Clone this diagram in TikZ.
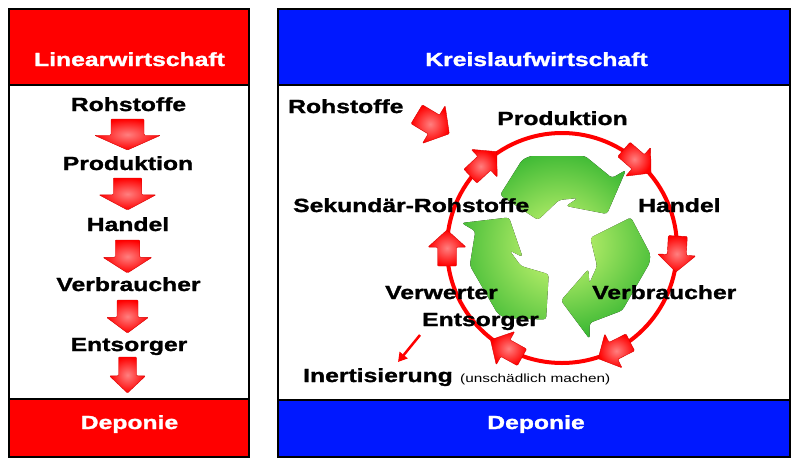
\documentclass[tikz,border=0pt]{standalone}
\usepackage{fontspec}
\setmainfont{Liberation Sans}[FakeStretch=1.3]
\newfontfamily\labfont{Liberation Sans}[UprightFont={* Bold}, FakeStretch=1.3, FakeBold=1.4]
\usetikzlibrary{positioning,arrows.meta}
\definecolor{hdblue}{RGB}{0,24,255}
\definecolor{recylight}{RGB}{215,252,120}
\definecolor{recydark}{RGB}{45,178,45}
\tikzset{
	blockarr/.pic={\shade[inner color=red!50!white, outer color=red, draw=red!85!black, line width=.4pt, rounded corners=1pt] (-1,-.5) -- (.05,-.5) -- (.05,-1) -- (1,0) -- (.05,1) -- (.05,.5) -- (-1,.5) -- cycle;},
	recyarr/.pic={\fill[y=1pt, rounded corners=3pt, path picture={\shade[inner color=recylight, outer color=recydark] (sym) circle[radius=104pt];}] (-59,49) -- (-37,84) -- (-29,88) -- (26,88) -- (53,66) -- (67,74) -- (48,30) -- (7,38) -- (19,46) -- (0,44) -- (-21,24) -- cycle;}
}
\begin{document}
\begin{tikzpicture}[x=1pt, y=-1pt, panel/.style={line width=2.5pt},
		lab/.style={font=\labfont\fontsize{19}{22}\selectfont, inner sep=0pt, anchor=base},
		hd/.style={lab, text=white}]
	\useasboundingbox (0,0) rectangle (800,469);
	\fill[white] (0,0) rectangle (800,469);
	\filldraw[panel, fill=red] (9,9) rectangle (249,85);
	\filldraw[panel, fill=white] (9,85) rectangle (249,399);
	\filldraw[panel, fill=red] (9,399) rectangle (249,457);
	\filldraw[panel, fill=hdblue] (278,9) rectangle (790,85);
	\filldraw[panel, fill=white] (278,85) rectangle (790,400);
	\filldraw[panel, fill=hdblue] (278,400) rectangle (790,457);
	\foreach \y/\l/\h in {134.5/31/66, 194/32/57, 256.5/33/49, 316.5/33/42, 375/36/36}
		\pic[rotate=-90, xscale=\l/2, yscale=\h/2] at (127.5,\y) {blockarr};
	\node[circle, draw=red, line width=4pt, minimum size=230pt, outer sep=0pt] (ring) at (562,248) {};
	\foreach \a in {133,49,-3,-63,-119,180}
		\pic[rotate=\a-90, xscale=18, yscale=19] at (ring.\a) {blockarr};
	\pic[rotate=-31, xscale=19, yscale=22] at (433,124) {blockarr};
	\coordinate (sym) at (559,244);
	\foreach \r in {0,-120,120}
		\pic[rotate=\r] at (sym) {recyarr};
	\coordinate (inA) at (420,335);
	\coordinate (inB) at (398,362);
	\draw[red, line width=2.5pt, -{Triangle[length=9pt,width=10pt]}] (inA) -- (inB);
	\node[hd] (linh) at (129.5,66) {Linearwirtschaft};
	\node[lab] (lroh) at (128.5,111) {Rohstoffe};
	\node[lab] (lpro) at (128,170) {Produktion};
	\node[lab] (lhan) at (128,231) {Handel};
	\node[lab] (lverb) at (128.5,291) {Verbraucher};
	\node[lab] (lent) at (129,351) {Entsorger};
	\node[hd] (ldep) at (129.5,429) {Deponie};
	\node[hd] (khdr) at (536.5,66) {Kreislaufwirtschaft};
	\node[hd] (rdep) at (536,429) {Deponie};
	\node[lab, anchor=base west] (rroh) at (288,113) {Rohstoffe};
	\node[lab] (rpro) at (562.5,125) {Produktion};
	\node[lab, anchor=base west] (rsek) at (293,212) {Sekundär-Rohstoffe};
	\node[lab, anchor=base west] (rhan) at (638,212) {Handel};
	\node[lab, anchor=base west] (rverb) at (592,299) {Verbraucher};
	\node[lab, anchor=base west] (rverw) at (385,299) {Verwerter};
	\node[lab, anchor=base west] (rent) at (422,326) {Entsorger};
	\node[lab, anchor=base west] (rine) at (303,382) {Inertisierung};
	\node[inner sep=0pt, font=\fontsize{11.8}{14}\selectfont, base right=7pt of rine] (runs) {(unschädlich machen)};
\end{tikzpicture}
\end{document}
